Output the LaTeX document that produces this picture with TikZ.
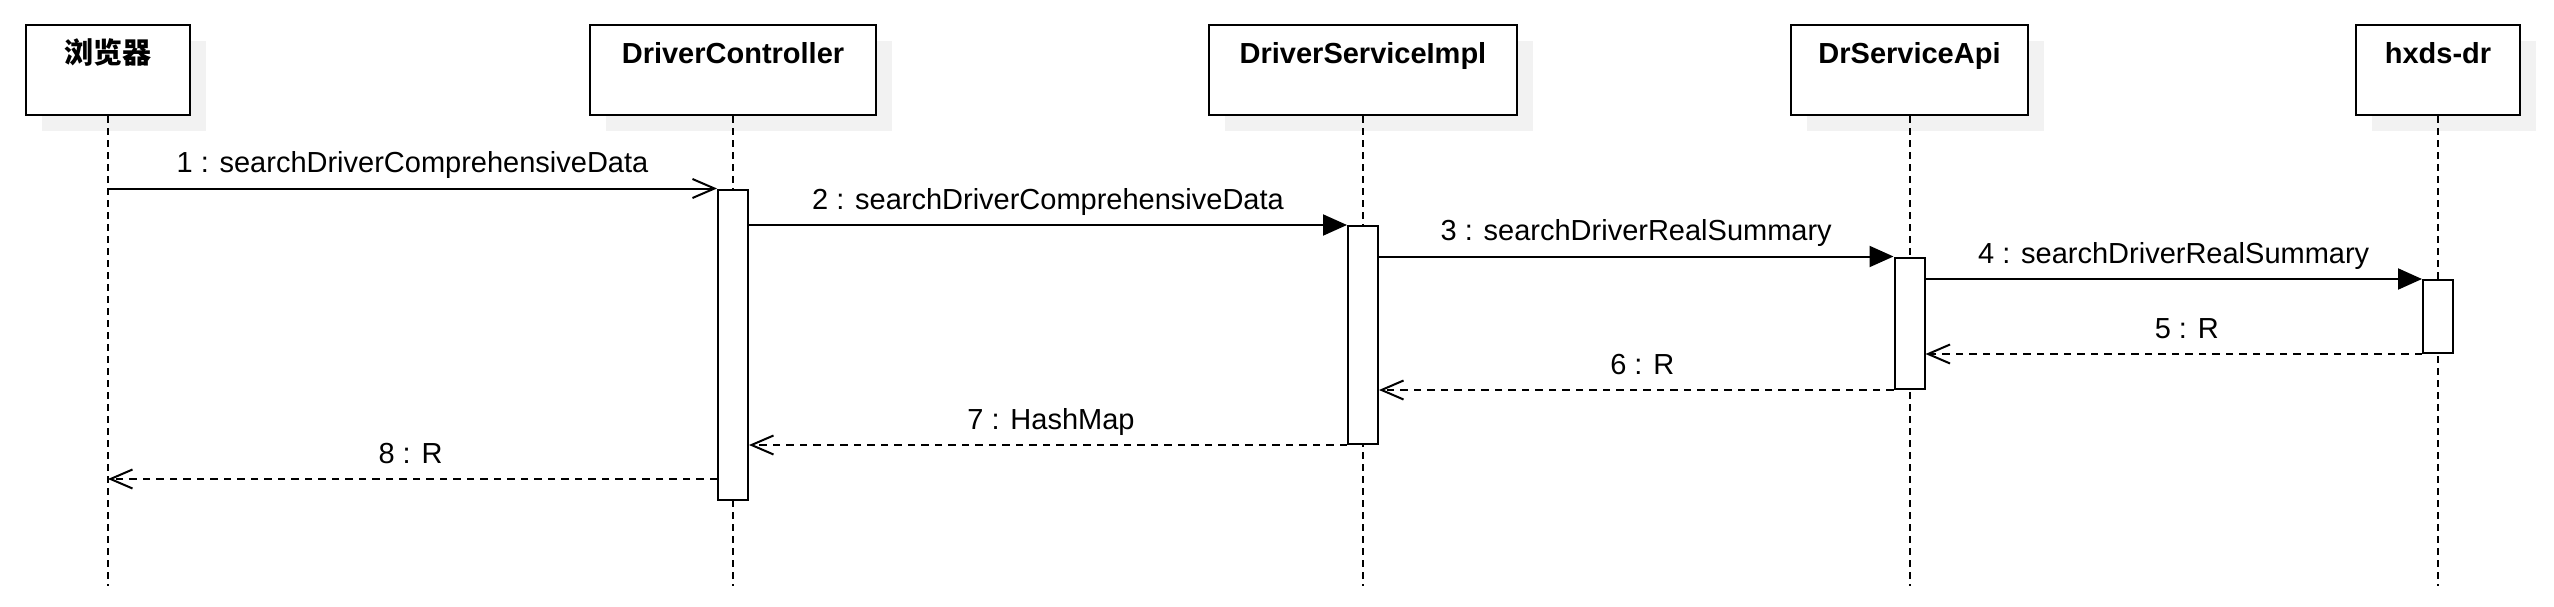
\documentclass[tikz,border=0pt]{standalone}
\usepackage{fontspec}
\setmainfont{Liberation Sans}
\newfontfamily\cjk{Noto Sans CJK SC}
\usetikzlibrary{arrows.meta,shadows}
\definecolor{shadowgray}{RGB}{242,242,242}
\begin{document}
\begin{tikzpicture}[x=1pt,y=-1pt,
  actor/.style={draw=black, line width=2.3pt, fill=white, minimum height=90pt,
    minimum width=#1, inner sep=0pt, anchor=north,
    drop shadow={shadow xshift=16pt, shadow yshift=-16pt, fill=shadowgray, opacity=1}},
  title/.style={anchor=base, inner sep=0pt, font=\fontsize{29}{34}\selectfont\bfseries},
  lifeline/.style={line width=2pt, dash pattern=on 7pt off 5pt},
  bar/.style={draw=black, line width=2pt, fill=white, minimum width=30pt,
    minimum height=#1, inner sep=0pt, anchor=north},
  call/.style={line width=2pt, -{Triangle[length=24pt,width=21pt]}},
  firstcall/.style={line width=2pt, -{Straight Barb[length=22pt,width=19pt,line width=2pt]}},
  ret/.style={line width=2pt, dash pattern=on 7.5pt off 6pt,
    -{Straight Barb[length=22pt,width=19pt,line width=2pt,sep=0pt]}},
  lbl/.style={anchor=base, inner sep=0pt, yshift=16pt, font=\fontsize{29}{34}\selectfont},
]
\useasboundingbox (0,0) rectangle (2554,607);

% participants
\node[actor=164pt] (b1) at (108,24) {};
\node[actor=286pt] (b2) at (733,24) {};
\node[actor=308pt] (b3) at (1363,24) {};
\node[actor=237pt] (b4) at (1909.5,24) {};
\node[actor=164pt] (b5) at (2438,24) {};

\node[title] (t1) at (108,64) {\cjk\bfseries 浏览器};
\node[title] (t2) at (733,64) {DriverController};
\node[title] (t3) at (1363,64) {DriverServiceImpl};
\node[title] (t4) at (1909.5,64) {DrServiceApi};
\node[title] (t5) at (2438,64) {hxds-dr};

% lifeline ends
\coordinate (e1) at (108,586);
\coordinate (e2) at (733,586);
\coordinate (e3) at (1363,586);
\coordinate (e4) at (1909.5,586);
\coordinate (e5) at (2438,586);

\draw[lifeline] (b1.south) -- (e1);
\draw[lifeline] (b2.south) -- (e2);
\draw[lifeline] (b3.south) -- (e3);
\draw[lifeline] (b4.south) -- (e4);
\draw[lifeline] (b5.south) -- (e5);

% activation bars
\node[bar=310pt] (a2) at (733,188.5) {};
\node[bar=218pt] (a3) at (1363,225) {};
\node[bar=131.5pt] (a4) at (1909.5,256.5) {};
\node[bar=73pt] (a5) at (2438,279) {};

% messages
\coordinate (s1) at (108,188.5);
\coordinate (r8) at (108,479);

\draw[firstcall] (s1) -- node[lbl, midway] (l1) {1 : searchDriverComprehensiveData} (a2.north west);
\draw[call] (a2.east |- a3.north) -- node[lbl, midway] (l2) {2 : searchDriverComprehensiveData} (a3.north west);
\draw[call] (a3.east |- a4.north) -- node[lbl, midway] (l3) {3 : searchDriverRealSummary} (a4.north west);
\draw[call] (a4.east |- a5.north) -- node[lbl, midway] (l4) {4 : searchDriverRealSummary} (a5.north west);
\draw[ret] (a5.south west) -- node[lbl, midway, xshift=13pt] (l5) {5 : R} (a4.east |- a5.south);
\draw[ret] (a4.south west) -- node[lbl, midway, xshift=6pt] (l6) {6 : R} (a3.east |- a4.south);
\draw[ret] (a3.south west) -- node[lbl, midway, xshift=3pt] (l7) {7 : HashMap} (a2.east |- a3.south);
\draw[ret] (a2.west |- r8) -- node[lbl, midway, xshift=-2pt] (l8) {8 : R} (r8);
\end{tikzpicture}
\end{document}
